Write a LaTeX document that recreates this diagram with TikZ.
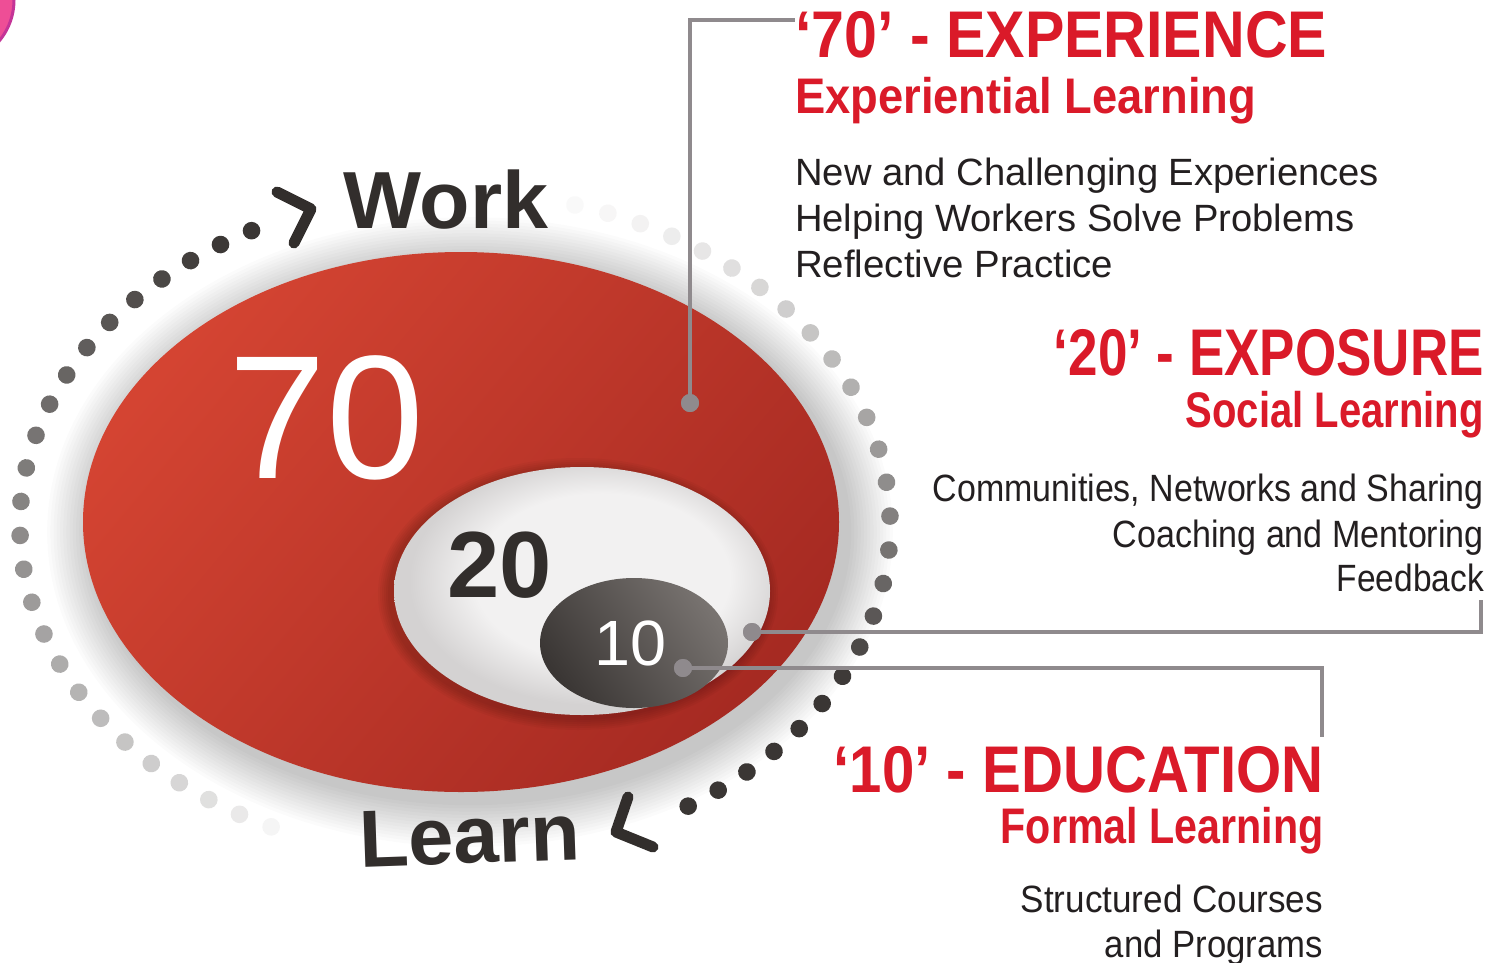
\documentclass[tikz,border=0pt]{standalone}
\usepackage{fontspec}
\setmainfont{Liberation Sans}
\usepackage{graphicx}
\usetikzlibrary{decorations.markings}
\definecolor{redtxt}{RGB}{218,26,41}
\definecolor{bodytxt}{RGB}{35,31,32}
\definecolor{darktxt}{RGB}{50,46,44}
\definecolor{conn}{RGB}{143,138,141}
\definecolor{redA}{RGB}{212,68,50}
\definecolor{redB}{RGB}{166,42,34}
\definecolor{dotc}{RGB}{52,48,46}
\definecolor{pinkf}{RGB}{238,78,150}
\definecolor{pinkd}{RGB}{196,52,151}
\definecolor{wcA}{RGB}{242,241,241}
\definecolor{wcB}{RGB}{212,210,210}
\definecolor{gA}{RGB}{120,115,112}
\definecolor{gB}{RGB}{58,54,52}
\pgfdeclareradialshading{wring}{\pgfpoint{4bp}{4bp}}{color(0bp)=(wcA); color(17bp)=(wcA); color(25bp)=(wcB); color(50bp)=(wcB)}
\newcommand{\fitw}[2]{\resizebox{#1pt}{\height}{#2}}
\begin{document}
\begin{tikzpicture}[x=1pt,y=1pt,
  hd/.style={font=\fontsize{66}{66}\selectfont\bfseries, text=redtxt, inner sep=0pt},
  sub/.style={font=\fontsize{50}{50}\selectfont\bfseries, text=redtxt, inner sep=0pt},
  body/.style={font=\fontsize{38}{38}\selectfont, text=bodytxt, inner sep=0pt},
  bigword/.style={font=\fontsize{81}{81}\selectfont\bfseries, text=darktxt, inner sep=0pt},
  connline/.style={draw=conn, line width=4pt},
  condot/.style={circle, fill=conn, minimum size=18pt, inner sep=0pt},
  chev/.style={draw=darktxt, line width=11pt, line cap=round, line join=round},
  dotfade/.style n args={3}{decorate, decoration={markings,
     mark=between positions 0 and 1 step 34pt with {
       \pgfmathsetmacro\dfrac{\pgfkeysvalueof{/pgf/decoration/mark info/distance from start}/\pgfdecoratedpathlength}
       \pgfmathsetmacro\dshade{min(97,#1+(#2-#1)*(\dfrac+0.0001)^#3)}
       \fill[dotc!\dshade!white] (0,0) circle[radius=8.8pt];}}}
]
\useasboundingbox (0,0) rectangle (1502,-962);
\clip (0,0) rectangle (1502,-962);
\fill[white] (0,0) rectangle (1502,-962);

% pink corner shape
\fill[pinkf, draw=pinkd, line width=3pt] (-50,0) circle[radius=64pt];

% soft shadow around the red ellipse
\foreach \k in {1,...,14}{
  \fill[black, fill opacity=0.016] (470,-532) ellipse[x radius={378pt+\k*3.2pt}, y radius={270pt+\k*3.2pt}];
}

% dotted arcs
\path[dotfade={5}{102}{0.9}] (455,-525) ++(245:435pt and 333pt) arc[start angle=245, end angle=115, x radius=435pt, y radius=333pt];
\path[dotfade={3}{150}{1.5}] (455,-525) ++(74:435pt and 333pt) arc[start angle=74, end angle=-62, x radius=435pt, y radius=333pt];

% chevrons
\coordinate (w1) at (277,-192); \coordinate (w2) at (311,-209); \coordinate (w3) at (294,-243);
\draw[chev] (w1) -- (w2) -- (w3);
\coordinate (l1) at (628,-797); \coordinate (l2) at (616,-832); \coordinate (l3) at (653,-847);
\draw[chev] (l1) -- (l2) -- (l3);

% ellipses
\shade[top color=redA, bottom color=redB, shading angle=50] (461,-522) ellipse[x radius=378pt, y radius=270pt];
\foreach \k in {1,...,6}{
  \fill[black, fill opacity=0.03] (578,-594) ellipse[x radius={188pt+\k*2pt}, y radius={124pt+\k*2pt}];
}
\shade[shading=wring] (582,-591) ellipse[x radius=188pt, y radius=124pt];
\shade[top color=gA, bottom color=gB, shading angle=-55] (634,-643) ellipse[x radius=94pt, y radius=65pt];

% numbers
\node[anchor=base west, inner sep=0pt, text=white, font=\fontsize{176}{176}\selectfont] (n70) at (228,-478) {70};
\node[anchor=base west, inner sep=0pt, text=darktxt, font=\fontsize{94}{94}\selectfont\bfseries] (n20) at (447,-597) {20};
\node[anchor=base west, inner sep=0pt, text=white, font=\fontsize{64}{64}\selectfont] (n10) at (594,-665) {\fitw{72}{10}};

% Work / Learn
\node[bigword, anchor=base west] (work) at (343,-228) {\fitw{205}{Work}};
\node[bigword, anchor=base west, rotate=2] (learn) at (360,-867) {\fitw{221}{Learn}};

% connectors
\coordinate (e1) at (795,-20);
\coordinate (e2) at (1481,-600);
\coordinate (e3) at (1322,-737);
\node[condot] (d1) at (690,-403) {};
\node[condot] (d2) at (752,-632) {};
\node[condot] (d3) at (683,-668) {};
\draw[connline] (d1.center) |- (e1);
\draw[connline] (d2.center) -| (e2);
\draw[connline] (d3.center) -| (e3);
\node[condot] at (d1) {};
\node[condot] at (d2) {};
\node[condot] at (d3) {};

% 70 block
\node[hd, anchor=base west] (h70) at (795,-57) {\fitw{532}{‘70’ - EXPERIENCE}};
\node[sub, anchor=base west] (s70) at (795,-113) {\fitw{461}{Experiential Learning}};
\node[body, anchor=base west] (b70a) at (795,-185) {\fitw{584}{New and Challenging Experiences}};
\node[body, anchor=base west] (b70b) at (795,-231) {\fitw{559}{Helping Workers Solve Problems}};
\node[body, anchor=base west] (b70c) at (795,-277) {\fitw{318}{Reflective Practice}};

% 20 block
\node[hd, anchor=base east] (h20) at (1484,-375) {\fitw{430}{‘20’ - EXPOSURE}};
\node[sub, anchor=base east] (s20) at (1484,-427) {\fitw{298}{Social Learning}};
\node[body, anchor=base east] (b20a) at (1484,-501) {\fitw{551}{Communities, Networks and Sharing}};
\node[body, anchor=base east] (b20b) at (1484,-547) {\fitw{371}{Coaching and Mentoring}};
\node[body, anchor=base east] (b20c) at (1484,-591) {\fitw{147}{Feedback}};

% 10 block
\node[hd, anchor=base east] (h10) at (1324,-792) {\fitw{490}{‘10’ - EDUCATION}};
\node[sub, anchor=base east] (s10) at (1324,-843) {\fitw{323}{Formal Learning}};
\node[body, anchor=base east] (b10a) at (1323,-912) {\fitw{302}{Structured Courses}};
\node[body, anchor=base east] (b10b) at (1323,-957) {\fitw{218}{and Programs}};
\end{tikzpicture}
\end{document}
